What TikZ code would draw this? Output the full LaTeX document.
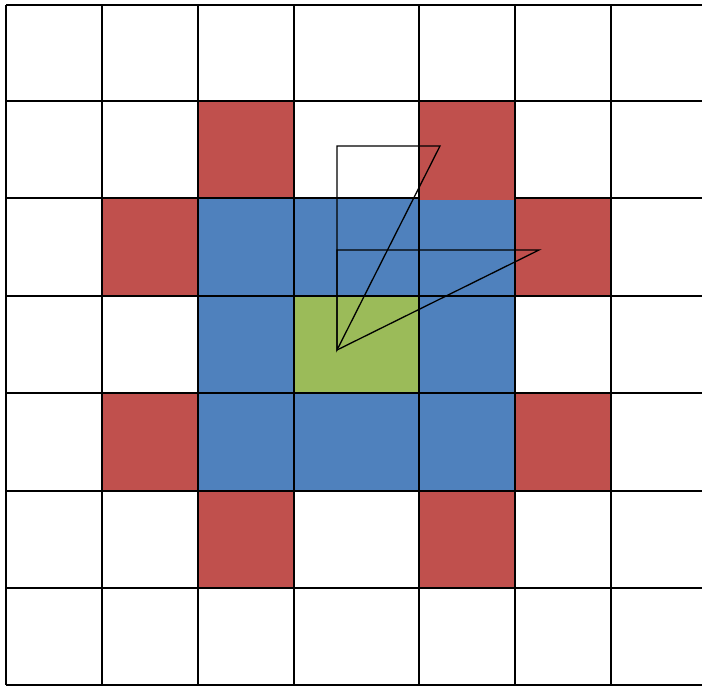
\documentclass[tikz,border=0pt]{standalone}
\usepackage{tikz}
\usepackage{xcolor}
\definecolor{cellred}{HTML}{C0504D}
\definecolor{cellblue}{HTML}{4F81BD}
\definecolor{cellgreen}{HTML}{9BBB59}
\tikzset{
  redcell/.style={fill=cellred},
  bluecell/.style={fill=cellblue},
  greencell/.style={fill=cellgreen},
  gridline/.style={line width=2pt},
  triline/.style={line width=1.3pt,line join=miter}
}

\begin{document}
\begin{tikzpicture}[x=1pt,y=-1pt]
\useasboundingbox (0,0) rectangle (702,686);
% blue ring and green centre
\fill[bluecell] (198,198) rectangle (515,491);
\fill[greencell] (294,296) rectangle (419,393);
% red cells
\foreach \xa/\ya/\xb/\yb in {198/101/294/198, 102/198/198/296, 515/198/611/296,
  102/393/198/491, 515/393/611/491, 198/491/294/588, 419/491/515/588}
  \fill[redcell] (\xa,\ya) rectangle (\xb,\yb);
% grid
\foreach \gx in {6,102,198,294,419,515,611}
  \draw[gridline] (\gx,5) -- (\gx,685);
\foreach \gy in {5,101,198,296,393,491,588,685}
  \draw[gridline] (6,\gy) -- (702,\gy);
\fill[redcell] (420,102) rectangle (514,199.5);
% triangles
\coordinate (apex) at (337,350);
\coordinate (topl) at (337,146);
\coordinate (topr) at (440,146);
\coordinate (midl) at (337,250);
\coordinate (midr) at (539,250);
\draw[triline] (apex) -- (topl) -- (topr) -- cycle;
\draw[triline] (apex) -- (midl) -- (midr) -- cycle;
\end{tikzpicture}
\end{document}
